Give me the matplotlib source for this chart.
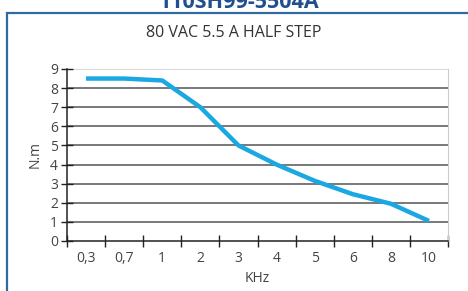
import matplotlib
matplotlib.use("Agg")
import matplotlib.pyplot as plt
from matplotlib.patches import Rectangle
import numpy as np

categories = ["0,3", "0,7", "1", "2", "3", "4", "5", "6", "8", "10"]
torque = [8.5, 8.5, 8.4, 7.0, 5.0, 4.0, 3.15, 2.45, 1.95, 1.05]
y_ticks = list(range(0, 10))

plt.rcParams['font.family'] = ['Open Sans', 'DejaVu Sans']

fig = plt.figure(figsize=(4.68, 2.91), dpi=100)
fig.patch.set_facecolor('white')

# outer box
fig.patches.append(Rectangle((7/468, -0.1), 1.2, 1 - 13/291 + 0.1, transform=fig.transFigure,
                             fill=False, edgecolor='#2f6aa3', linewidth=1.6))
fig.text(0.51, 1 - 8/291, "110SH99-5504A", ha='center', va='baseline', fontsize=15.5,
         fontweight='bold', color='#1f4f8f')
fig.text(0.5, 1 - 33/291, "80 VAC 5.5 A HALF STEP", ha='center', va='center', fontsize=11.5,
         color='#333333')

ax = fig.add_axes([67/468, 50/291, (448-67)/468, (241-69)/291])
n = len(categories)
x = np.arange(n)
ax.set_xlim(-0.5, n - 0.5)
ax.set_ylim(0, 9)

for v in y_ticks[1:]:
    ax.axhline(v, color='#cccccc' if v == 9 else '#555555', lw=1.1, zorder=1)

ax.plot(x, torque, color='#1ba8e2', lw=3.2, solid_capstyle='butt', zorder=3)

ax.set_xticks(np.arange(n + 1) - 0.5)
ax.set_xticklabels([])
ax.set_xticks(x, minor=True)
ax.set_xticklabels(categories, minor=True)
ax.tick_params(axis='x', which='major', direction='inout', length=9, width=1, color='#222222')
ax.tick_params(axis='x', which='minor', length=0, pad=7, labelsize=10, labelcolor='#444444')
ax.set_yticks(y_ticks)
ax.tick_params(axis='y', direction='inout', length=9, width=1, color='#222222', pad=2,
               labelsize=10, labelcolor='#444444')

ax.spines['top'].set_visible(False)
ax.spines['right'].set_color('#cccccc')
ax.spines['left'].set_color('#222222')
ax.spines['bottom'].set_color('#222222')
ax.spines['left'].set_linewidth(1.1)
ax.spines['bottom'].set_linewidth(1.1)

ax.set_xlabel("KHz", fontsize=10, color='#444444', labelpad=4)
ax.set_ylabel("N.m", fontsize=10, color='#444444', labelpad=5)

fig.savefig("out.png", dpi=100)
